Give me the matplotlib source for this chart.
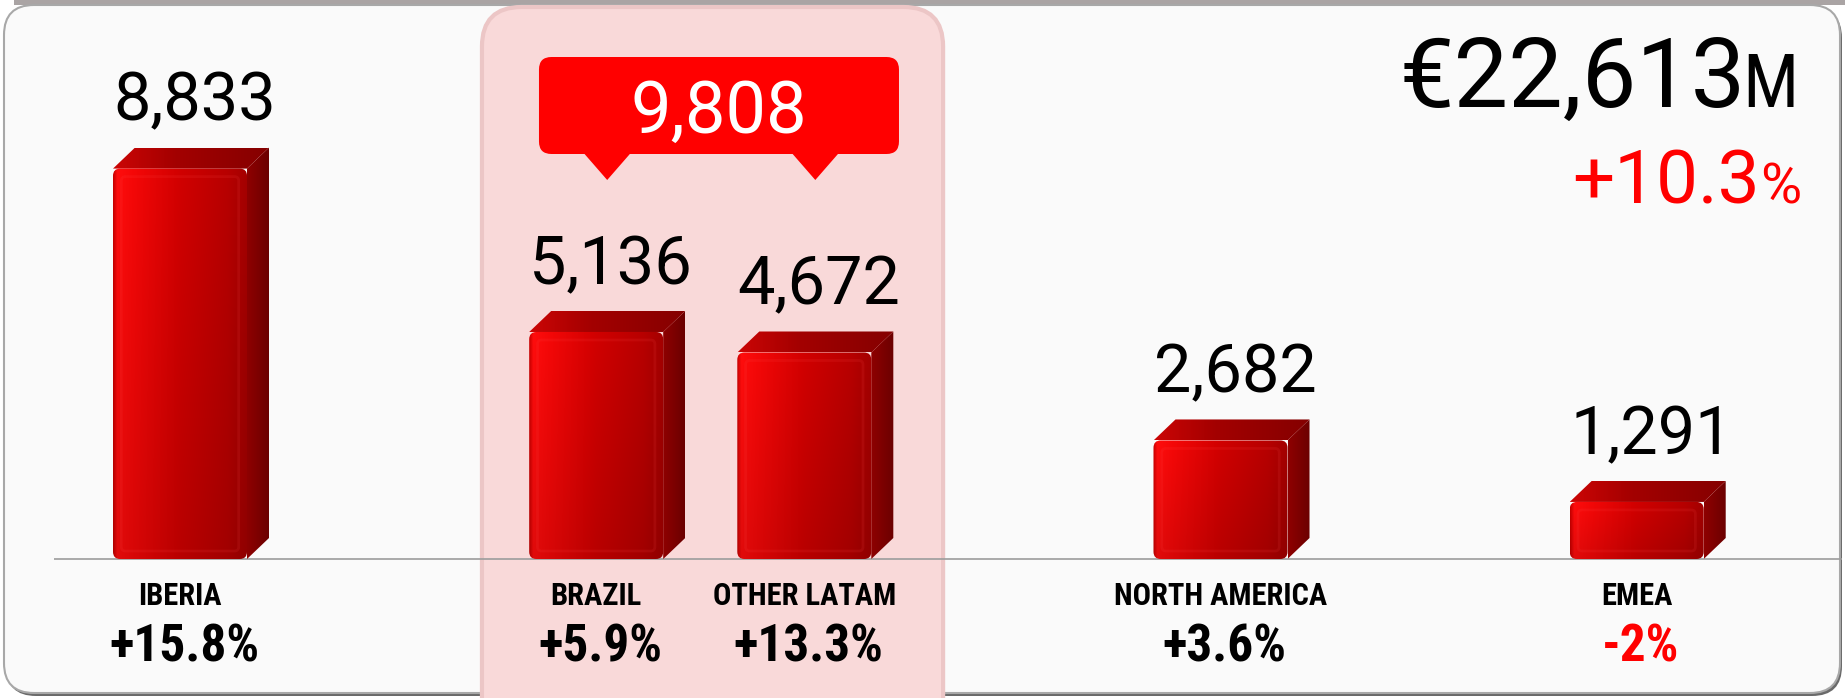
import numpy as np
import matplotlib
matplotlib.use("Agg")
import matplotlib.pyplot as plt
from matplotlib.patches import FancyBboxPatch, Polygon, Rectangle


# ─── Data ─────────────────────────────────────────────────────────────────────

regions  = ["IBERIA", "BRAZIL", "OTHER LATAM", "NORTH AMERICA", "EMEA"]
revenue  = [8833, 5136, 4672, 2682, 1291]          # € million
growth   = [15.8, 5.9, 13.3, 3.6, -2.0]            # % year on year
latam    = [1, 2]                                  # indices grouped in the highlight
total_revenue = 22613
total_growth  = 10.3


# ─── Layout ───────────────────────────────────────────────────────────────────

W, H   = 1845, 698
slots  = [0, 2, 3, 5, 7]     # category slot of each bar
XS     = 208.1               # pixels per slot
YS     = 0.0442              # pixels per € million
X0     = 180                 # pixel column of slot 0
BASE   = 559                 # pixel row of the baseline
BAR_W  = 0.644               # front face width, in slots
DX     = 22 / XS             # box depth, horizontal
DY     = 21 / YS             # box depth, vertical

RED    = "#ff0000"
PT     = 0.72                # points per pixel at dpi 100

NARROW = ["Roboto Condensed", "Liberation Sans Narrow", "Roboto", "DejaVu Sans"]
SANS   = ["Roboto", "DejaVu Sans"]


def py(row):
    """pixel row -> data y (for layout items)"""
    return (BASE - row) / YS


def px(col):
    """pixel column -> data x"""
    return (col - X0) / XS


def ramp(stops, n):
    t = np.linspace(0, 1, n)
    pos = [s[0] for s in stops]
    return np.stack([np.interp(t, pos, [s[1][i] for s in stops]) for i in range(3)], axis=1)


FRONT_STOPS = [(0.00, (0.78, 0.00, 0.00)),
               (0.03, (1.00, 0.05, 0.05)),
               (0.15, (0.96, 0.03, 0.03)),
               (0.50, (0.82, 0.00, 0.00)),
               (0.85, (0.72, 0.00, 0.00)),
               (1.00, (0.64, 0.00, 0.00))]
TOP_STOPS   = [(0.00, (0.80, 0.02, 0.02)),
               (0.40, (0.64, 0.00, 0.00)),
               (1.00, (0.52, 0.00, 0.00))]
SIDE_STOPS  = [(0.00, (0.56, 0.00, 0.00)),
               (1.00, (0.42, 0.00, 0.00))]


def gradient_fill(ax, patch, extent, stops, vshade=None):
    ax.add_patch(patch)
    row = ramp(stops, 200)
    img = np.repeat(row[None, :, :], 60, axis=0)
    if vshade is not None:
        img = img * np.linspace(vshade[0], vshade[1], 60)[:, None, None]
    im = ax.imshow(np.clip(img, 0, 1), extent=extent, origin="lower",
                   aspect="auto", interpolation="bilinear", zorder=patch.get_zorder())
    im.set_clip_path(patch)


def draw_box(ax, x, v):
    left, right = x - BAR_W / 2, x + BAR_W / 2

    # right side face
    side = Polygon([(right, 0), (right + DX, DY), (right + DX, v + DY), (right, v)],
                   closed=True, facecolor="none", edgecolor="none", zorder=3,
                   transform=ax.transData)
    gradient_fill(ax, side, (right, right + DX, 0, v + DY), SIDE_STOPS)

    # top face
    top = Polygon([(left, v), (right, v), (right + DX, v + DY), (left + DX, v + DY)],
                  closed=True, facecolor="none", edgecolor="none", zorder=3,
                  transform=ax.transData)
    gradient_fill(ax, top, (left, right + DX, v, v + DY), TOP_STOPS)

    # front face, slightly rounded
    front = FancyBboxPatch((left, 0), BAR_W, v,
                           boxstyle="round,pad=0,rounding_size=0.035",
                           mutation_aspect=XS / YS, facecolor="none",
                           edgecolor="none", zorder=4, transform=ax.transData)
    gradient_fill(ax, front, (left, right, 0, v), FRONT_STOPS, vshade=(0.88, 1.0))

    # soft inner bevel
    ax.add_patch(FancyBboxPatch((left + 0.04, 8 / YS), BAR_W - 0.08, v - 16 / YS,
                                boxstyle="round,pad=0,rounding_size=0.02",
                                mutation_aspect=XS / YS, facecolor="none",
                                edgecolor=(1, 0.3, 0.3, 0.12), lw=2, zorder=5))


# ─── Figure ───────────────────────────────────────────────────────────────────

fig = plt.figure(figsize=(W / 100, H / 100), dpi=100)
fig.patch.set_facecolor("white")

# background axes in pixel coordinates: card + header
bg = fig.add_axes([0, 0, 1, 1])
bg.set_xlim(0, W)
bg.set_ylim(H, 0)
bg.axis("off")

bg.add_patch(Rectangle((14, 0), W - 14, 5, facecolor="#aaa4a4", edgecolor="none"))
bg.add_patch(FancyBboxPatch((6, 8), W - 9, H - 10, boxstyle="round,pad=0,rounding_size=30",
                            facecolor="#6a6a6a", edgecolor="none"))
bg.add_patch(FancyBboxPatch((4, 5), W - 9, H - 10, boxstyle="round,pad=0,rounding_size=30",
                            facecolor="#fafafa", edgecolor="#a8a8a8", lw=1.5))

bg.text(1746, 107, f"€{total_revenue:,}", ha="right", va="baseline",
        fontsize=69 / 0.711 * PT, family=SANS, color="black")
bg.text(1799, 107, "M", ha="right", va="baseline", fontsize=53 / 0.711 * PT,
        family=NARROW, color="black")
bg.text(1760, 203, f"{total_growth:+.1f}", ha="right", va="baseline",
        fontsize=53 / 0.711 * PT, family=SANS, color=RED)
bg.text(1801, 203, "%", ha="right", va="baseline", fontsize=40 / 0.711 * PT,
        family=SANS, color=RED)

# data axes: x in slots, y in € million
ax = fig.add_axes([0, 0, 1, 1])
ax.patch.set_alpha(0)
ax.axis("off")
ax.set_autoscale_on(False)
ax.set_xlim(px(0), px(W))
ax.set_ylim(py(H), py(0))

# LatAm highlight panel
g0, g1 = slots[latam[0]], slots[latam[-1]]
ax.add_patch(FancyBboxPatch((g0 - 0.549, py(740)), (g1 + 0.667) - (g0 - 0.549), py(7) - py(740),
                            boxstyle="round,pad=0,rounding_size=0.19", mutation_aspect=XS / YS,
                            facecolor="#f9d9d9", edgecolor="#ecc6c6", lw=3, zorder=1))

# baseline
ax.hlines(0, px(54), px(W - 3), color="#9c9c9c", lw=1.2, zorder=2)

# boxes + labels
for s, name, v, g in zip(slots, regions, revenue, growth):
    draw_box(ax, s, v)
    ax.annotate(f"{v:,}", xy=(s + 0.07, v), xytext=(0, 48),
                textcoords="offset pixels", ha="center", va="baseline",
                fontsize=48, family=SANS, color="black", zorder=6)
    ax.annotate(name, xy=(s, 0), xytext=(0, -37), textcoords="offset pixels",
                ha="center", va="center", fontsize=22, fontweight="bold",
                family=NARROW, color="black", zorder=6)
    ax.annotate(f"{g:+g}%", xy=(s + 0.02, 0), xytext=(0, -89), textcoords="offset pixels",
                ha="center", va="center", fontsize=37, fontweight="bold",
                family=NARROW, color=RED if g < 0 else "black", zorder=6)

# LatAm total callout
cl, cr = g0 - 0.275, g1 + 0.455
ax.add_patch(FancyBboxPatch((cl, py(154)), cr - cl, py(57) - py(154),
                            boxstyle="round,pad=0,rounding_size=0.06", mutation_aspect=XS / YS,
                            facecolor=RED, edgecolor="none", zorder=7))
for s in (g0, g1):
    tip = s + DX / 2
    ax.add_patch(Polygon([(tip - 0.113, py(153)), (tip + 0.113, py(153)), (tip, py(180))],
                         closed=True, facecolor=RED, edgecolor="none", zorder=7))
latam_total = sum(revenue[i] for i in latam)
ax.text((cl + cr) / 2, py(133), f"{latam_total:,}", ha="center", va="baseline",
        fontsize=52, family=SANS, color="white", zorder=8)

fig.savefig("out.png", dpi=100, facecolor="white")
